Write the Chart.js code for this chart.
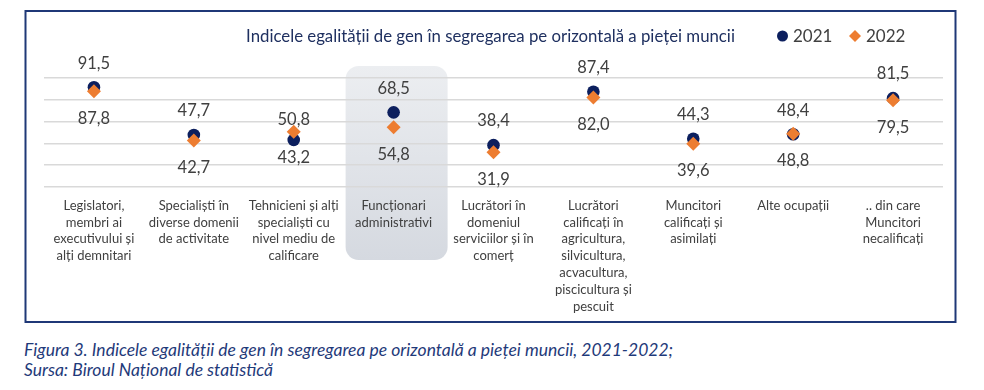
<!DOCTYPE html>
<html>
<head>
<meta charset="utf-8">
<script src="https://cdn.jsdelivr.net/npm/chart.js@4.4.1/dist/chart.umd.min.js"></script>
<style>
  body { margin: 0; background: #fff; width: 984px; height: 390px; overflow: hidden; font-family: Lato, sans-serif; }
  #wrap { position: relative; width: 984px; height: 330px; }
  .caption { position: absolute; left: 24px; top: 340px; font-style: italic; color: #1f3a7a; font-size: 17.5px; line-height: 20px; }
</style>
</head>
<body>
<div id="wrap"><canvas id="chart" width="984" height="330"></canvas></div>
<div class="caption">Figura 3. Indicele egalității de gen în segregarea pe orizontală a pieței muncii, 2021-2022;<br>Sursa: Biroul Național de statistică</div>
<script>
// data
const chartTitle = 'Indicele egalității de gen în segregarea pe orizontală a pieței muncii';
const categories = [
  ['Legislatori,', 'membri ai', 'executivului și', 'alți demnitari'],
  ['Specialiști în', 'diverse domenii', 'de activitate'],
  ['Tehnicieni și alți', 'specialiști cu', 'nivel mediu de', 'calificare'],
  ['Funcționari', 'administrativi'],
  ['Lucrători în', 'domeniul', 'serviciilor și în', 'comerț'],
  ['Lucrători', 'calificați în', 'agricultura,', 'silvicultura,', 'acvacultura,', 'piscicultura și', 'pescuit'],
  ['Muncitori', 'calificați și', 'asimilați'],
  ['Alte ocupații'],
  ['.. din care', 'Muncitori', 'necalificați']
];
const years = ['2021', '2022'];
const values2021 = [91.5, 47.7, 43.2, 68.5, 38.4, 87.4, 44.3, 48.4, 81.5];
const values2022 = [87.8, 42.7, 50.8, 54.8, 31.9, 82.0, 39.6, 48.8, 79.5];
const yTicks = [0, 20, 40, 60, 80, 100];
const highlightIndex = 3;

const NAVY = '#0c1f5e';
const ORANGE = '#ed7d31';
const TEXT = '#404040';
const FONT = 'Lato, sans-serif';

const fmt = v => v.toFixed(1).replace('.', ',');

// grey rounded box behind one category
const highlightPlugin = {
  id: 'highlight',
  beforeDraw(chart) {
    const { ctx, chartArea, scales } = chart;
    const cx = scales.x.getPixelForValue(highlightIndex);
    const x = cx - 48, w = 102;
    const top = chartArea.top - 12, bottom = chartArea.bottom + 73;
    const g = ctx.createLinearGradient(0, top, 0, bottom);
    g.addColorStop(0, '#eceef1');
    g.addColorStop(1, '#d5d9e0');
    ctx.save();
    ctx.fillStyle = g;
    ctx.beginPath();
    ctx.roundRect(x, top, w, bottom - top, 13);
    ctx.fill();
    ctx.restore();
  }
};

// value labels, title, legend and frame
const decorPlugin = {
  id: 'decor',
  afterDatasetsDraw(chart) {
    const { ctx } = chart;
    const m21 = chart.getDatasetMeta(0).data;
    const m22 = chart.getDatasetMeta(1).data;
    ctx.save();
    ctx.font = '16.5px ' + FONT;
    ctx.fillStyle = TEXT;
    ctx.textAlign = 'center';
    ctx.textBaseline = 'middle';
    values2021.forEach((v, i) => {
      const p1 = m21[i], p2 = m22[i];
      if (values2022[i] > v + 2) {
        ctx.fillText(fmt(values2022[i]), p2.x, p2.y - 12);
        ctx.fillText(fmt(v), p1.x, p1.y + 18);
      } else {
        ctx.fillText(fmt(v), p1.x, p1.y - 24);
        ctx.fillText(fmt(values2022[i]), p2.x, p2.y + 27);
      }
    });
    ctx.restore();
  },
  afterDraw(chart) {
    const { ctx } = chart;
    ctx.save();
    // title fitted to the reference width
    ctx.font = '16px ' + FONT;
    const size = 16 * 489 / ctx.measureText(chartTitle).width;
    ctx.font = size.toFixed(2) + 'px ' + FONT;
    ctx.fillStyle = '#1f3060';
    ctx.textAlign = 'center';
    ctx.textBaseline = 'middle';
    ctx.fillText(chartTitle, 490.5, 37);

    // legend
    ctx.font = '17px ' + FONT;
    ctx.textAlign = 'left';
    ctx.fillStyle = NAVY;
    ctx.beginPath();
    ctx.arc(782.5, 36, 5.5, 0, Math.PI * 2);
    ctx.fill();
    ctx.fillStyle = TEXT;
    ctx.fillText(chart.data.datasets[0].label, 793, 37);
    ctx.fillStyle = ORANGE;
    ctx.beginPath();
    ctx.moveTo(855, 30); ctx.lineTo(861, 36); ctx.lineTo(855, 42); ctx.lineTo(849, 36);
    ctx.closePath();
    ctx.fill();
    ctx.fillStyle = TEXT;
    ctx.fillText(chart.data.datasets[1].label, 866, 37);

    // frame
    ctx.strokeStyle = '#1f3877';
    ctx.lineWidth = 2;
    ctx.strokeRect(25.5, 11, 930, 311);
    ctx.restore();
  }
};

const ctx = document.getElementById('chart').getContext('2d');
new Chart(ctx, {
  type: 'line',
  data: {
    labels: categories,
    datasets: [
      {
        label: years[0],
        data: values2021,
        showLine: false,
        pointStyle: 'circle',
        pointRadius: 6.3,
        pointBackgroundColor: NAVY,
        pointBorderWidth: 0,
        order: 1
      },
      {
        label: years[1],
        data: values2022,
        showLine: false,
        pointStyle: 'rectRot',
        pointRadius: 7,
        pointBackgroundColor: ORANGE,
        pointBorderWidth: 0,
        order: 0
      }
    ]
  },
  options: {
    responsive: false,
    animation: false,
    layout: { padding: { left: 44, right: 41, top: 78, bottom: 0 } },
    plugins: {
      legend: { display: false },
      title: { display: false },
      tooltip: { enabled: false }
    },
    scales: {
      x: {
        offset: true,
        grid: { display: false, drawTicks: false },
        border: { display: false },
        ticks: {
          autoSkip: false,
          maxRotation: 0,
          padding: 10,
          color: TEXT,
          font: { family: FONT, size: 13, lineHeight: 1.3 }
        },
        afterFit(scale) { scale.height = 330 - 187; }
      },
      y: {
        min: 0,
        max: 100,
        afterBuildTicks(scale) { scale.ticks = yTicks.map(v => ({ value: v })); },
        ticks: { display: false },
        grid: { color: '#d9d9d9', lineWidth: 1.5, drawTicks: false },
        border: { display: false },
        afterFit(scale) { scale.width = 0; }
      }
    }
  },
  plugins: [highlightPlugin, decorPlugin]
});
</script>
</body>
</html>
